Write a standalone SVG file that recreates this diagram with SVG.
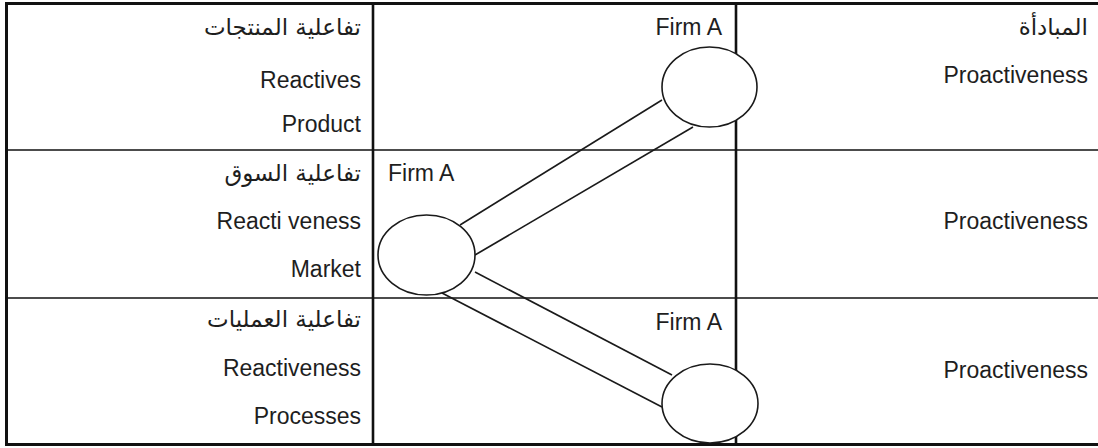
<svg xmlns="http://www.w3.org/2000/svg" width="1098" height="448" viewBox="0 0 1098 448">
<style>
.t{font-family:"Liberation Sans",Arial,sans-serif;font-size:23px;fill:#1e1e1e;}
.ar{font-family:"DejaVu Sans","Noto Sans",sans-serif;font-size:23px;fill:#1e1e1e;}
.e{text-anchor:end;}
.grid{stroke:#111;fill:none;}
.conn{stroke:#1a1a1a;stroke-width:1.6;fill:none;}
.node{fill:#fff;stroke:#1a1a1a;stroke-width:1.6;}
</style>
<rect width="1098" height="448" fill="#fff"/>
<g id="grid">
<line class="grid" x1="5" y1="3.5" x2="1098" y2="3.5" stroke-width="3"/>
<line class="grid" x1="5" y1="444.5" x2="1098" y2="444.5" stroke-width="3"/>
<line class="grid" x1="6.5" y1="2" x2="6.5" y2="446" stroke-width="3"/>
<line class="grid" x1="5" y1="150" x2="1098" y2="150" stroke-width="1.6"/>
<line class="grid" x1="5" y1="298" x2="1098" y2="298" stroke-width="1.6"/>
<line class="grid" x1="373" y1="3" x2="373" y2="445" stroke-width="2.6"/>
<line class="grid" x1="736" y1="3" x2="736" y2="445" stroke-width="2.6"/>
</g>
<g id="labels-left">
<text class="ar e" x="361" y="35">تفاعلية المنتجات</text>
<text class="t e" x="361" y="88">Reactives</text>
<text class="t e" x="361" y="132">Product</text>
<text class="ar e" x="361" y="181">تفاعلية السوق</text>
<text class="t e" x="361" y="229">Reacti veness</text>
<text class="t e" x="361" y="277">Market</text>
<text class="ar e" x="361" y="327">تفاعلية العمليات</text>
<text class="t e" x="361" y="376">Reactiveness</text>
<text class="t e" x="361" y="424">Processes</text>
</g>
<g id="labels-right">
<text class="ar e" x="1088" y="35">المبادأة</text>
<text class="t e" x="1088" y="83">Proactiveness</text>
<text class="t e" x="1088" y="229">Proactiveness</text>
<text class="t e" x="1088" y="378">Proactiveness</text>
</g>
<g id="connectors">
<line class="conn" x1="662" y1="100" x2="460" y2="225"/>
<line class="conn" x1="693" y1="127" x2="475" y2="255"/>
<line class="conn" x1="475" y1="272" x2="672" y2="375"/>
<line class="conn" x1="442" y1="293" x2="662" y2="407"/>
</g>
<g id="firmA-top">
<ellipse class="node" cx="709.5" cy="87" rx="47.5" ry="40"/>
<text class="t e" x="722" y="35">Firm A</text>
</g>
<g id="firmA-middle">
<ellipse class="node" cx="426.5" cy="255" rx="48.5" ry="40"/>
<text class="t" x="388" y="181">Firm A</text>
</g>
<g id="firmA-bottom">
<ellipse class="node" cx="710" cy="403.5" rx="48" ry="39.5"/>
<text class="t e" x="722" y="330">Firm A</text>
</g>
</svg>
